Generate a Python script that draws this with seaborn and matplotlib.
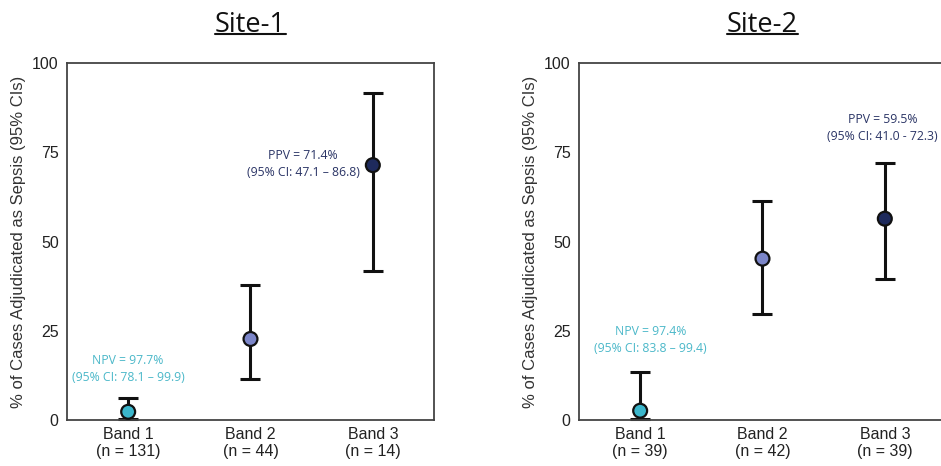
import matplotlib
matplotlib.use("Agg")
import matplotlib.pyplot as plt
import seaborn as sns
import pandas as pd
from matplotlib.lines import Line2D

sites = ["Site-1", "Site-2"]
bands = ["Band 1", "Band 2", "Band 3"]
n_site1 = [131, 44, 14]
n_site2 = [39, 42, 39]
val_site1 = [2.3, 22.7, 71.4]
low_site1 = [0.3, 11.5, 41.8]
high_site1 = [6.3, 37.8, 91.5]
val_site2 = [2.6, 45.2, 56.4]
low_site2 = [0.2, 29.8, 39.6]
high_site2 = [13.4, 61.3, 72.1]
band_colors = ["#3bb6cb", "#7c86c9", "#1e2a5c"]
npv_text = ["NPV = 97.7%\n(95% CI: 78.1 – 99.9)", "NPV = 97.4%\n(95% CI: 83.8 – 99.4)"]
ppv_text = ["PPV = 71.4%\n(95% CI: 47.1 – 86.8)", "PPV = 59.5%\n(95% CI: 41.0 - 72.3)"]
ylabel = "% of Cases Adjudicated as Sepsis (95% CIs)"

sns.set_style("white")
plt.rcParams["font.family"] = ["Liberation Sans", "DejaVu Sans"]

fig = plt.figure(figsize=(9.41, 4.66), dpi=100)
ax1 = fig.add_axes([0.0712, 0.0987, 0.39, 0.766])
ax2 = fig.add_axes([0.6153, 0.0987, 0.39, 0.766])

data = [
    (val_site1, low_site1, high_site1, n_site1),
    (val_site2, low_site2, high_site2, n_site2),
]
npv_pos = [(0.0, 14.4), (0.085, 22.3)]
ppv_pos = [(1.43, 71.8), (1.98, 81.8)]

titles = []
for i, ax in enumerate([ax1, ax2]):
    vals, lows, highs, ns = data[i]
    cats = [f"{b}\n(n = {n})" for b, n in zip(bands, ns)]
    df = pd.DataFrame({"cat": cats, "val": vals, "low": lows, "high": highs, "band": bands})
    eb = ax.errorbar(df["cat"], df["val"],
                     yerr=[df["val"] - df["low"], df["high"] - df["val"]],
                     fmt="none", ecolor="#111111", elinewidth=2.2, capsize=7, capthick=2.2, zorder=2)
    for art in eb.lines[1] + eb.lines[2]:
        art.set_clip_on(False)
    sns.scatterplot(data=df, x="cat", y="val", hue="band", palette=band_colors,
                    s=100, edgecolor="#111111", linewidth=1.6, legend=False, zorder=3, ax=ax)
    ax.set_xlim(-0.5, 2.5)
    ax.set_ylim(0, 100)
    ax.set_yticks([0, 25, 50, 75, 100])
    ax.set_xlabel("")
    ax.set_ylabel(ylabel, fontsize=12, color="#333333", labelpad=4)
    ax.tick_params(axis="x", length=0, labelsize=11.5, colors="#222222", pad=5)
    ax.tick_params(axis="y", length=0, labelsize=11.5, colors="#222222", pad=6)
    for lbl in ax.get_xticklabels():
        lbl.set_linespacing(1.15)
    for sp in ax.spines.values():
        sp.set_color("#444444")
        sp.set_linewidth(1.3)
    ax.text(npv_pos[i][0], npv_pos[i][1], npv_text[i], ha="center", va="center",
            fontsize=8.8, color="#4bb8c9", family=["Open Sans", "DejaVu Sans"], linespacing=1.4)
    ax.text(ppv_pos[i][0], ppv_pos[i][1], ppv_text[i], ha="center", va="center",
            fontsize=8.8, color="#2b3566", family=["Open Sans", "DejaVu Sans"], linespacing=1.4)
    t = ax.set_title(sites[i], fontsize=19.5, family=["Open Sans", "DejaVu Sans"], color="#111111", pad=22)
    titles.append(t)

fig.canvas.draw()
r = fig.canvas.get_renderer()
for t in titles:
    bb = t.get_window_extent(renderer=r).transformed(fig.transFigure.inverted())
    y = bb.y0 + 0.012
    fig.add_artist(Line2D([bb.x0, bb.x1], [y, y], transform=fig.transFigure, color="#111111", lw=1.5))

fig.savefig("out.png", dpi=100)
